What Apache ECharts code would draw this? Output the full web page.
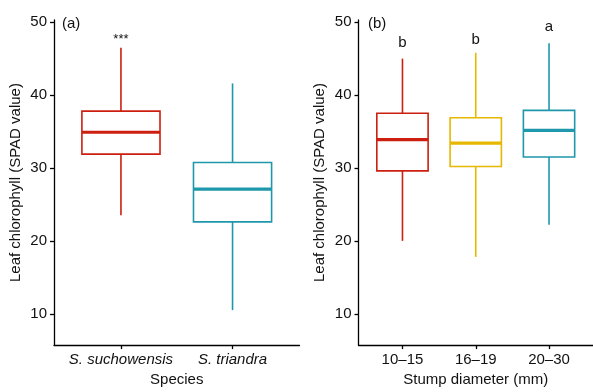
<!DOCTYPE html>
<html style="height: 100%">
<head>
  <meta charset="utf-8">
</head>
<body style="height: 100%; margin: 0; background: #fff">
  <div id="container" style="width: 593px; height: 392px"></div>
  <script src="https://cdn.jsdelivr.net/npm/echarts@6/dist/echarts.min.js"></script>
  <script>
    // panel (a): species
    var speciesNames = ['S. suchowensis', 'S. triandra'];
    var speciesMin = [23.5, 10.5];
    var speciesQ1 = [31.9, 22.6];
    var speciesMedian = [34.9, 27.1];
    var speciesQ3 = [37.8, 30.75];
    var speciesMax = [46.5, 41.6];
    var speciesSig = ['***', ''];
    var speciesSigY = [47.6, null];
    var speciesColors = ['#cc1f0f', '#1e98aa'];

    // panel (b): stump diameter
    var diameterNames = ['10–15', '16–19', '20–30'];
    var diameterMin = [20.0, 17.8, 22.2];
    var diameterQ1 = [29.6, 30.2, 31.5];
    var diameterMedian = [33.9, 33.4, 35.15];
    var diameterQ3 = [37.5, 36.9, 37.9];
    var diameterMax = [45.0, 45.8, 47.1];
    var diameterSig = ['b', 'b', 'a'];
    var diameterSigY = [47.1, 47.6, 49.3];
    var diameterColors = ['#cc1f0f', '#e6b800', '#1e98aa'];

    var yTicks = [10, 20, 30, 40, 50];

    var FONT = '"Liberation Sans", Arial, sans-serif';
    var dom = document.getElementById('container');
    var myChart = echarts.init(dom, null, { renderer: 'canvas' });

    function buildRows(names, mins, q1, med, q3, max, sigY) {
      return names.map(function (n, i) {
        return [i + 1, mins[i], q1[i], med[i], q3[i], max[i], sigY[i] == null ? NaN : sigY[i]];
      });
    }

    function makeRender(colors, sig) {
      return function (params, api) {
        var i = params.dataIndex;
        var x = api.value(0);
        var pMin = api.coord([x, api.value(1)]);
        var pQ1 = api.coord([x, api.value(2)]);
        var pMed = api.coord([x, api.value(3)]);
        var pQ3 = api.coord([x, api.value(4)]);
        var pMax = api.coord([x, api.value(5)]);
        var half = api.size([0.7, 0])[0] / 2;
        var c = colors[i];
        var children = [
          { type: 'line', shape: { x1: pMax[0], y1: pMax[1], x2: pQ3[0], y2: pQ3[1] }, style: { stroke: c, lineWidth: 1.6 } },
          { type: 'line', shape: { x1: pQ1[0], y1: pQ1[1], x2: pMin[0], y2: pMin[1] }, style: { stroke: c, lineWidth: 1.6 } },
          { type: 'rect', shape: { x: pQ3[0] - half, y: pQ3[1], width: half * 2, height: pQ1[1] - pQ3[1] }, style: { fill: '#fff', stroke: c, lineWidth: 1.6 } },
          { type: 'line', shape: { x1: pMed[0] - half, y1: pMed[1], x2: pMed[0] + half, y2: pMed[1] }, style: { stroke: c, lineWidth: 3.2 } }
        ];
        var sy = api.value(6);
        if (sig[i] && !isNaN(sy)) {
          var pSig = api.coord([x, sy]);
          children.push({
            type: 'text', x: pSig[0], y: pSig[1],
            style: { text: sig[i], fill: '#111', font: (sig[i] === '***' ? '13px ' : '15px ') + FONT, align: 'center', verticalAlign: 'middle' }
          });
        }
        return { type: 'group', children: children };
      };
    }

    function xAxisFor(gridIndex, names, italic, title) {
      return {
        type: 'value', gridIndex: gridIndex, min: 0.4, max: names.length + 0.6,
        name: title, nameLocation: 'middle', nameGap: 24,
        nameTextStyle: { fontFamily: FONT, fontSize: 15, color: '#111' },
        axisLine: { show: true, onZero: false, lineStyle: { color: '#000', width: 1.3 } },
        axisTick: { show: true, length: 4, customValues: names.map(function (n, i) { return i + 1; }), lineStyle: { color: '#000', width: 1.3 } },
        axisLabel: {
          margin: 7, fontFamily: FONT, fontSize: 15, color: '#111', fontStyle: italic ? 'italic' : 'normal',
          customValues: names.map(function (n, i) { return i + 1; }),
          formatter: function (v) { return names[Math.round(v) - 1]; }
        },
        splitLine: { show: false }
      };
    }

    function yAxisFor(gridIndex) {
      return {
        type: 'value', gridIndex: gridIndex, min: 5.7, max: 50.3,
        name: 'Leaf chlorophyll (SPAD value)', nameLocation: 'middle', nameGap: 31,
        nameTextStyle: { fontFamily: FONT, fontSize: 15, color: '#111' },
        axisLine: { show: true, lineStyle: { color: '#000', width: 1.3 } },
        axisTick: { show: true, length: 4, customValues: yTicks, lineStyle: { color: '#000', width: 1.3 } },
        axisLabel: { margin: 7, fontFamily: FONT, fontSize: 15, color: '#111', customValues: yTicks },
        splitLine: { show: false }
      };
    }

    var option = {
      animation: false,
      grid: [
        { left: 54, top: 20, width: 245.5, height: 331 },
        { left: 358.5, top: 20, width: 244, height: 331 }
      ],
      xAxis: [
        xAxisFor(0, speciesNames, true, 'Species'),
        xAxisFor(1, diameterNames, false, 'Stump diameter (mm)')
      ],
      yAxis: [yAxisFor(0), yAxisFor(1)],
      graphic: [
        { type: 'text', left: 62, top: 16, style: { text: '(a)', font: '15px ' + FONT, fill: '#111' } },
        { type: 'text', left: 368, top: 16, style: { text: '(b)', font: '15px ' + FONT, fill: '#111' } }
      ],
      series: [
        {
          type: 'custom', xAxisIndex: 0, yAxisIndex: 0,
          renderItem: makeRender(speciesColors, speciesSig),
          encode: { x: 0, y: [1, 2, 3, 4, 5] },
          data: buildRows(speciesNames, speciesMin, speciesQ1, speciesMedian, speciesQ3, speciesMax, speciesSigY)
        },
        {
          type: 'custom', xAxisIndex: 1, yAxisIndex: 1,
          renderItem: makeRender(diameterColors, diameterSig),
          encode: { x: 0, y: [1, 2, 3, 4, 5] },
          data: buildRows(diameterNames, diameterMin, diameterQ1, diameterMedian, diameterQ3, diameterMax, diameterSigY)
        }
      ]
    };

    myChart.setOption(option);
    window.addEventListener('resize', myChart.resize);
  </script>
</body>
</html>
